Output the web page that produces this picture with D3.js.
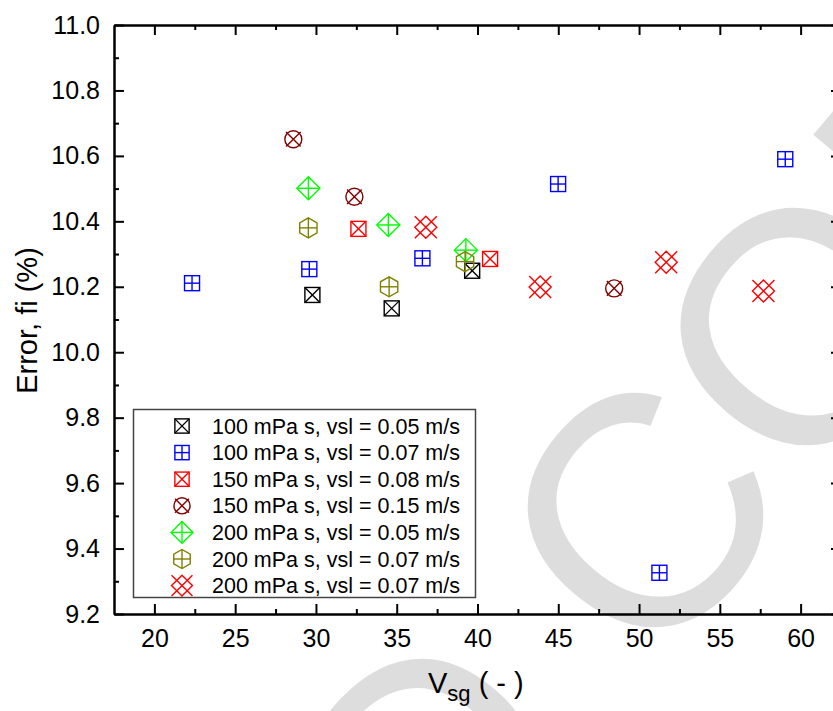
<!DOCTYPE html>
<html>
<head>
<meta charset="utf-8">
<script src="https://cdn.jsdelivr.net/npm/d3@7"></script>
<style>
body{margin:0;background:#fff;}
text{font-family:"Liberation Sans",Arial,sans-serif;fill:#000;}
</style>
</head>
<body>
<svg id="chart" width="833" height="711"></svg>
<script>
//DATA
let xTicks=[20, 25, 30, 35, 40, 45, 50, 55, 60]; //major ticks of Vsg axis
let yTicks=[9.2, 9.4, 9.6, 9.8, 10.0, 10.2, 10.4, 10.6, 10.8, 11.0]; //major ticks of error axis
let names=[
    "100 mPa s, vsl = 0.05 m/s",
    "100 mPa s, vsl = 0.07 m/s",
    "150 mPa s, vsl = 0.08 m/s",
    "150 mPa s, vsl = 0.15 m/s",
    "200 mPa s, vsl = 0.05 m/s",
    "200 mPa s, vsl = 0.07 m/s",
    "200 mPa s, vsl = 0.07 m/s"
];
let vsg1=[29.78, 34.69, 39.67];
let err1=[10.175, 10.134, 10.249];
let vsg2=[22.33, 29.59, 36.59, 44.99, 51.26, 59.05];
let err2=[10.211, 10.254, 10.287, 10.514, 9.326, 10.590];
let vsg3=[32.63, 40.78];
let err3=[10.377, 10.285];
let vsg4=[28.60, 32.38, 48.46];
let err4=[10.651, 10.475, 10.195];
let vsg5=[29.53, 34.48, 39.28];
let err5=[10.501, 10.389, 10.312];
let vsg6=[29.53, 34.53, 39.23];
let err6=[10.380, 10.200, 10.277];
let vsg7=[36.80, 43.88, 51.68, 57.70];
let err7=[10.382, 10.199, 10.275, 10.187];
let watermark="ED COPY"; //grey stamp text behind the plot (only partly visible)

//STYLES (symbol type and colour of every series)
let shapes=["boxX", "boxPlus", "boxX", "circleX", "diamondPlus", "hexPlus", "diamondX"];
let colors=["#000000", "#0000ff", "#ff0000", "#800000", "#00ff00", "#808000", "#ff0000"];

let allX=[vsg1, vsg2, vsg3, vsg4, vsg5, vsg6, vsg7];
let allY=[err1, err2, err3, err4, err5, err6, err7];

//LAYOUT
let pLeft=114, pRight=841, pTop=25, pBottom=614;

let svg=d3.select("#chart");
let x=d3.scaleLinear().domain([17.5, 62.5]).range([pLeft, pRight]);
let y=d3.scaleLinear().domain([9.2, 11.0]).range([pBottom, pTop]);

let xMinor=xTicks.map(v=>v+2.5).filter(v=>v<62.5);
let yMinor=yTicks.map(v=>+(v+0.1).toFixed(1)).filter(v=>v<11.0);

//watermark first, so everything else sits on top of it
svg.append("text")
    .attr("transform", "translate(298,1102) rotate(-50)")
    .attr("font-size", 330)
    .style("fill", "#dddddd")
    .text(watermark);

//draws one symbol into group g
function marker(g, type, col, k){
    let s=k||1;
    let line=(x1, y1, x2, y2)=>g.append("line").attr("x1", x1*s).attr("y1", y1*s).attr("x2", x2*s).attr("y2", y2*s);
    switch(type){
        case "boxX": {
            g.append("rect").attr("x", -7.5*s).attr("y", -7.5*s).attr("width", 15*s).attr("height", 15*s);
            line(-7.5, -7.5, 7.5, 7.5);
            line(-7.5, 7.5, 7.5, -7.5);
            break;
        }
        case "boxPlus": {
            g.append("rect").attr("x", -7.5*s).attr("y", -7.5*s).attr("width", 15*s).attr("height", 15*s);
            line(0, -7.5, 0, 7.5);
            line(-7.5, 0, 7.5, 0);
            break;
        }
        case "circleX": {
            g.append("circle").attr("r", 8.5*s);
            line(-7.3, -7.3, 7.3, 7.3);
            line(-7.3, 7.3, 7.3, -7.3);
            break;
        }
        case "diamondPlus": {
            g.append("path").attr("d", d3.line()([[0, -11.5*s], [11.5*s, 0], [0, 11.5*s], [-11.5*s, 0]])+"Z");
            line(0, -11.5, 0, 11.5);
            line(-11.5, 0, 11.5, 0);
            break;
        }
        case "hexPlus": {
            let pts=d3.range(6).map(i=>[10*s*Math.sin(i*Math.PI/3), -10*s*Math.cos(i*Math.PI/3)]);
            g.append("path").attr("d", d3.line()(pts)+"Z");
            line(0, -10, 0, 10);
            line(-8.66, 0, 8.66, 0);
            break;
        }
        case "diamondX": {
            g.append("path").attr("d", d3.line()([[0, -11*s], [11*s, 0], [0, 11*s], [-11*s, 0]])+"Z");
            line(-11, -11, 11, 11);
            line(-11, 11, 11, -11);
            break;
        }
    }
    g.selectAll("*").attr("fill", "none").attr("stroke", col).attr("stroke-width", 1.4);
}

//AXES
function styleAxis(a){
    a.selectAll("path").attr("stroke", "#000").attr("stroke-width", 2);
    a.selectAll("line").attr("stroke", "#000").attr("stroke-width", 2);
    a.selectAll("text").attr("font-size", 25).attr("fill", "#000").attr("font-family", "Liberation Sans, Arial, sans-serif");
}

let ax;
ax=svg.append("g").attr("transform", "translate(0,"+pBottom+")")
    .call(d3.axisBottom(x).tickValues(xTicks).tickSizeInner(-10).tickSizeOuter(0).tickPadding(15).tickFormat(d3.format("d")));
styleAxis(ax);
ax=svg.append("g").attr("transform", "translate(0,"+pBottom+")")
    .call(d3.axisBottom(x).tickValues(xMinor).tickSizeInner(-5).tickSizeOuter(0).tickFormat(""));
styleAxis(ax);
ax=svg.append("g").attr("transform", "translate(0,"+pTop+")")
    .call(d3.axisTop(x).tickValues(xTicks).tickSizeInner(-10).tickSizeOuter(0).tickFormat(""));
styleAxis(ax);
ax=svg.append("g").attr("transform", "translate(0,"+pTop+")")
    .call(d3.axisTop(x).tickValues(xMinor).tickSizeInner(-5).tickSizeOuter(0).tickFormat(""));
styleAxis(ax);
ax=svg.append("g").attr("transform", "translate("+pLeft+",0)")
    .call(d3.axisLeft(y).tickValues(yTicks).tickSizeInner(-10).tickSizeOuter(0).tickPadding(14).tickFormat(d3.format(".1f")));
styleAxis(ax);
ax=svg.append("g").attr("transform", "translate("+pLeft+",0)")
    .call(d3.axisLeft(y).tickValues(yMinor).tickSizeInner(-5).tickSizeOuter(0).tickFormat(""));
styleAxis(ax);
ax=svg.append("g").attr("transform", "translate("+pRight+",0)")
    .call(d3.axisRight(y).tickValues(yTicks).tickSizeInner(-10).tickSizeOuter(0).tickFormat(""));
styleAxis(ax);
ax=svg.append("g").attr("transform", "translate("+pRight+",0)")
    .call(d3.axisRight(y).tickValues(yMinor).tickSizeInner(-5).tickSizeOuter(0).tickFormat(""));
styleAxis(ax);

//axis titles
svg.append("text")
    .attr("transform", "translate(37,"+((pTop+pBottom)/2+1)+") rotate(-90)")
    .attr("text-anchor", "middle")
    .attr("font-size", 29)
    .text("Error, fi (%)");
let xt=svg.append("text").attr("x", 428).attr("y", 693).attr("font-size", 29);
xt.append("tspan").text("V");
xt.append("tspan").attr("font-size", 22).attr("dy", 8).text("sg");
xt.append("tspan").attr("dy", -8).text(" ( - )");

//LEGEND
let lg=svg.append("g");
lg.append("rect").attr("x", 133.5).attr("y", 409.5).attr("width", 342).attr("height", 188)
    .attr("fill", "#fff").attr("stroke", "#444").attr("stroke-width", 1.5);
names.forEach(function(n, i){
    let cy=426+i*26.6;
    marker(lg.append("g").attr("transform", "translate(182,"+cy+")"), shapes[i], colors[i], 0.95);
    lg.append("text").attr("x", 212).attr("y", cy+7.6).attr("font-size", 21.5).text(n);
});

//POINTS
for(var i=0;i<allX.length;i++){
    let pts=allX[i].map((v, j)=>[v, allY[i][j]]);
    svg.append("g").selectAll("g")
        .data(pts)
        .enter()
        .append("g")
        .attr("transform", d=>"translate("+x(d[0])+","+y(d[1])+")")
        .each(function(){ marker(d3.select(this), shapes[i], colors[i], 1); });
}
</script>
</body>
</html>
